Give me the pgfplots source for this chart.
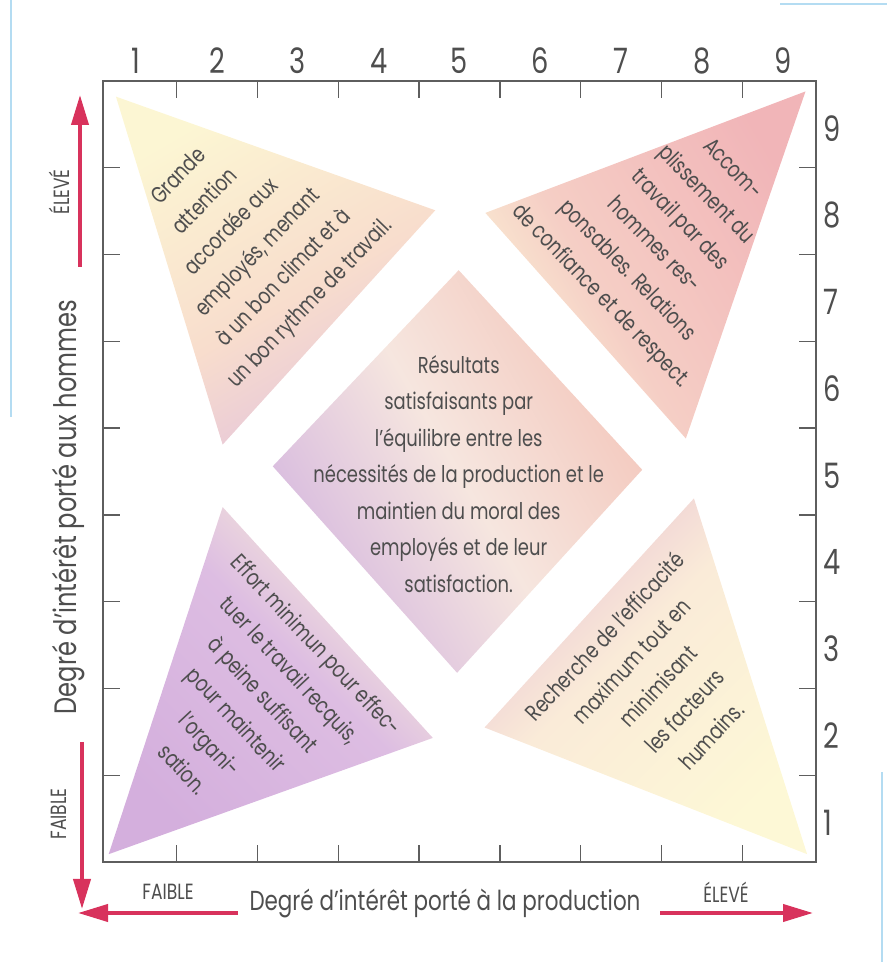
\documentclass[border=0pt]{standalone}
\usepackage{fontspec}
\setmainfont{Poppins}[FakeStretch=0.78]
\usepackage{pgfplots}
\pgfplotsset{compat=1.18}
\usetikzlibrary{arrows.meta}

% colours
\definecolor{txt}{HTML}{4E4E4E}
\definecolor{axc}{HTML}{5E5E5E}
\definecolor{arr}{HTML}{D8325C}
\definecolor{scan}{HTML}{B4DCF2}
\definecolor{tlT}{HTML}{FCF6D3}
\definecolor{tlM}{HTML}{F8DDCD}
\definecolor{tlB}{HTML}{E5C5DA}
\definecolor{trT}{HTML}{F1B5B8}
\definecolor{trM}{HTML}{F5CEC5}
\definecolor{trB}{HTML}{FBF1D5}
\definecolor{ctT}{HTML}{F3C7BC}
\definecolor{ctM}{HTML}{F6E6DF}
\definecolor{ctB}{HTML}{D5B7DF}
\definecolor{blT}{HTML}{FAF0D8}
\definecolor{blM}{HTML}{DDBDE2}
\definecolor{blB}{HTML}{D4AFDD}
\definecolor{brT}{HTML}{EAC5D4}
\definecolor{brM}{HTML}{FAEBD8}
\definecolor{brB}{HTML}{FDF8D6}

\pgfdeclareverticalshading{shTL}{100bp}{color(0bp)=(tlB); color(25bp)=(tlB); color(45bp)=(tlM); color(75bp)=(tlT); color(100bp)=(tlT)}
\pgfdeclareverticalshading{shTR}{100bp}{color(0bp)=(trB); color(25bp)=(trB); color(42bp)=(trM); color(75bp)=(trT); color(100bp)=(trT)}
\pgfdeclareverticalshading{shCT}{100bp}{color(0bp)=(ctB); color(25bp)=(ctB); color(50bp)=(ctM); color(75bp)=(ctT); color(100bp)=(ctT)}
\pgfdeclareverticalshading{shBL}{100bp}{color(0bp)=(blB); color(25bp)=(blB); color(55bp)=(blM); color(75bp)=(blT); color(100bp)=(blT)}
\pgfdeclareverticalshading{shBR}{100bp}{color(0bp)=(brB); color(25bp)=(brB); color(55bp)=(brM); color(75bp)=(brT); color(100bp)=(brT)}

\newcommand{\bodyfont}{\fontsize{23}{36.5}\selectfont}
\newcommand{\ticfont}{\fontsize{35}{36}\selectfont}
\newcommand{\smallcap}{\fontsize{22}{24}\selectfont}

\begin{document}
\begin{tikzpicture}
\path[use as bounding box] (0,0) rectangle (887pt,962pt);

% scan edges
\draw[scan, line width=2.5pt] (11pt,962pt) -- (11pt,545pt);
\draw[scan, line width=2.5pt] (882pt,0pt) -- (882pt,190pt);
\draw[scan, line width=2.5pt] (780pt,958pt) -- (887pt,958pt);

\begin{axis}[
  at={(103pt,100pt)}, anchor=south west,
  scale only axis, width=713pt, height=781pt,
  xmin=0.59, xmax=9.41, ymin=0.5, ymax=9.5,
  xtick={1,...,9}, ytick={1,...,9},
  xticklabels={1,2,3,4,5,6,7,8,9},
  yticklabels={1,2,3,4,5,6,7,8,9},
  minor xtick={1.5,2.5,...,8.5}, minor ytick={1.5,2.5,...,8.5},
  xticklabel pos=upper, yticklabel pos=upper,
  tick pos=both, tick align=inside,
  major tick length=0pt, minor tick length=17pt,
  major tick style={draw=none},
  minor tick style={draw=axc, line width=1.4pt},
  axis line style={draw=axc, line width=1.7pt},
  xticklabel style={font=\ticfont, text=txt, anchor=base, inner sep=0pt, yshift=8pt},
  yticklabel style={font=\ticfont, text=txt, anchor=west, inner sep=0pt, xshift=7pt, yshift=-4pt},
]

% 1,9 : people
\addplot[draw=none, shading=shTL, shading angle=30] coordinates {(0.75,9.32) (4.70,8.01) (2.07,5.31)} -- cycle;
% 9,9 : team
\addplot[draw=none, shading=shTR, shading angle=-60] coordinates {(9.28,9.38) (5.32,7.98) (7.80,5.38)} -- cycle;
% 5,5 : middle
\addplot[draw=none, shading=shCT, shading angle=-60] coordinates {(4.99,7.32) (7.26,5.02) (4.97,2.68) (2.69,5.06)} -- cycle;
% 1,1 : impoverished
\addplot[draw=none, shading=shBL, shading angle=-45] coordinates {(0.66,0.59) (2.07,4.59) (4.67,1.93)} -- cycle;
% 9,1 : task
\addplot[draw=none, shading=shBR, shading angle=45] coordinates {(9.30,0.59) (7.90,4.69) (5.31,2.05)} -- cycle;

\node[rotate=46, align=center, font=\bodyfont, text=txt, inner sep=0pt] at (axis cs:2.35,7.66)
  {Grande\\attention\\accordée aux\\employés, menant\\à un bon climat et à\\un bon rythme de travail.};
\node[rotate=-46, align=center, font=\bodyfont, text=txt, inner sep=0pt] at (axis cs:7.55,7.74)
  {Accom-\\plissement du\\travail par des\\hommes res-\\ponsables. Relations\\de confiance et de respect.};
\node[align=center, font=\bodyfont, text=txt, inner sep=0pt] at (axis cs:4.99,4.97)
  {Résultats\\satisfaisants par\\l’équilibre entre les\\nécessités de la production et le\\maintien du moral des\\employés et de leur\\satisfaction.};
\node[rotate=-47, align=center, font=\bodyfont, text=txt, inner sep=0pt] at (axis cs:2.41,2.29)
  {Effort minimun pour effec-\\tuer le travail recquis,\\à peine suffisant\\pour maintenir\\l’organi-\\sation.};
\node[rotate=47, align=center, font=\bodyfont, text=txt, inner sep=0pt] at (axis cs:7.45,2.53)
  {Recherche de l’efficacité\\maximum tout en\\minimisant\\les facteurs\\humains.};
\end{axis}

% axis titles
\node[rotate=90, font=\fontsize{31}{34}\selectfont, text=txt, inner sep=0pt] at (68.5pt,455pt) {Degré d’intérêt porté aux hommes};
\node[font=\fontsize{27.5}{30}\selectfont, text=txt, inner sep=0pt] at (445pt,59pt) {Degré d’intérêt porté à la production};

% low / high marks
\node[rotate=90, font=\smallcap, text=txt, inner sep=0pt] at (59.5pt,770pt) {ÉLEVÉ};
\node[rotate=90, font=\smallcap, text=txt, inner sep=0pt] at (59pt,148pt) {FAIBLE};
\node[font=\smallcap, text=txt, inner sep=0pt] at (168pt,70.5pt) {FAIBLE};
\node[font=\smallcap, text=txt, inner sep=0pt] at (726pt,70pt) {ÉLEVÉ};

% red arrows
\draw[arr, line width=4pt, -{Triangle[length=30pt,width=17pt]}] (80pt,695pt) -- (80pt,867pt);
\draw[arr, line width=4pt, -{Triangle[length=30pt,width=17pt]}] (82pt,220pt) -- (82pt,53pt);
\draw[arr, line width=4pt, -{Triangle[length=30pt,width=17pt]}] (238pt,49pt) -- (78pt,49pt);
\draw[arr, line width=4pt, -{Triangle[length=30pt,width=17pt]}] (660pt,49pt) -- (813pt,49pt);
\end{tikzpicture}
\end{document}
